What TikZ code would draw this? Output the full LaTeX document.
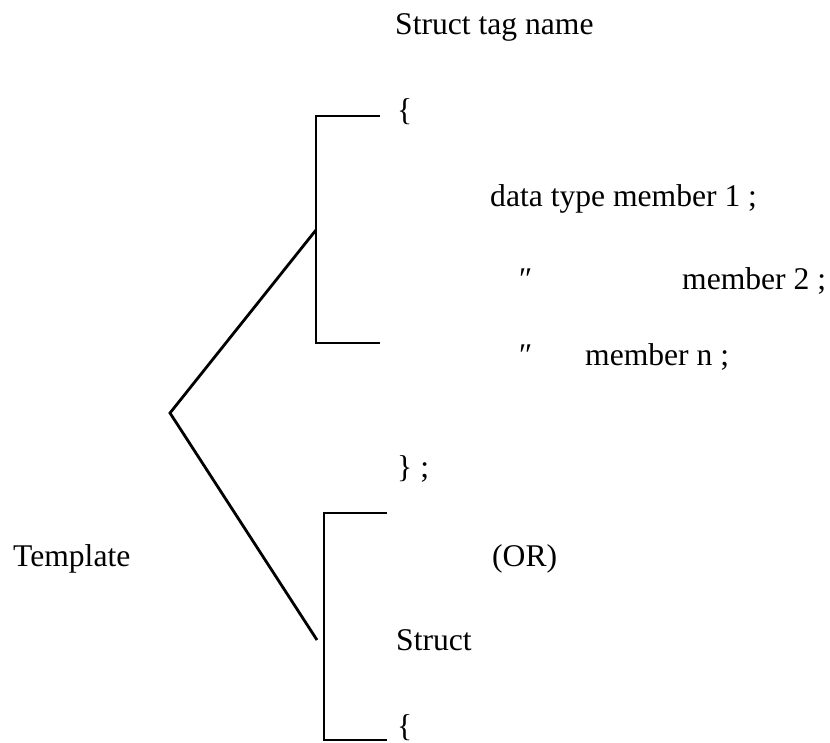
\documentclass[tikz,border=0pt]{standalone}
\usepackage{fontspec}
\setmainfont{Liberation Serif}
\usetikzlibrary{positioning}

\begin{document}
\begin{tikzpicture}[
    x=1pt, y=-1pt,
    tx/.style={anchor=base west, inner sep=0pt, font=\fontsize{31.6}{38}\selectfont},
    br/.style={line width=2.8pt, line cap=butt, line join=miter}
  ]
    \useasboundingbox (0,0) rectangle (830,743);
    % text
    \node[tx] (tag)   at (395, 35)  {Struct tag name};
    \node[tx] (open)  at (397,121)  {\{};
    \node[tx] (m1)    at (490,207)  {data type member 1 ;};
    \node[tx] (q2)    at (519,290)  {″};
    \node[tx] (m2)    at (682,290)  {member 2 ;};
    \node[tx] (qn)    at (519,365)  {″};
    \node[tx] (mn)    at (585,365)  {member n ;};
    \node[tx] (close) at (397,477)  {\} ;};
    \node[tx] (tmpl)  at (13,566)   {Template};
    \node[tx] (or)    at (492,566)  {(OR)};
    \node[tx] (st)    at (396,650)  {Struct};
    \node[tx] (open2) at (397,736)  {\{};
    % brackets
    \coordinate (apex) at (170,413);
    \coordinate (ta) at (380,116); \coordinate (tb) at (316,116);
    \coordinate (tc) at (316,343); \coordinate (td) at (380,343);
    \coordinate (tj) at (316,230);
    \coordinate (ba) at (387,513); \coordinate (bb) at (324,513);
    \coordinate (bc) at (324,740); \coordinate (bd) at (387,740);
    \coordinate (bj) at (317,640);
    \draw[br] (ta) -- (tb) -- (tc) -- (td);
    \draw[br] (ba) -- (bb) -- (bc) -- (bd);
    \draw[br] (tj) -- (apex) -- (bj);
\end{tikzpicture}
\end{document}
